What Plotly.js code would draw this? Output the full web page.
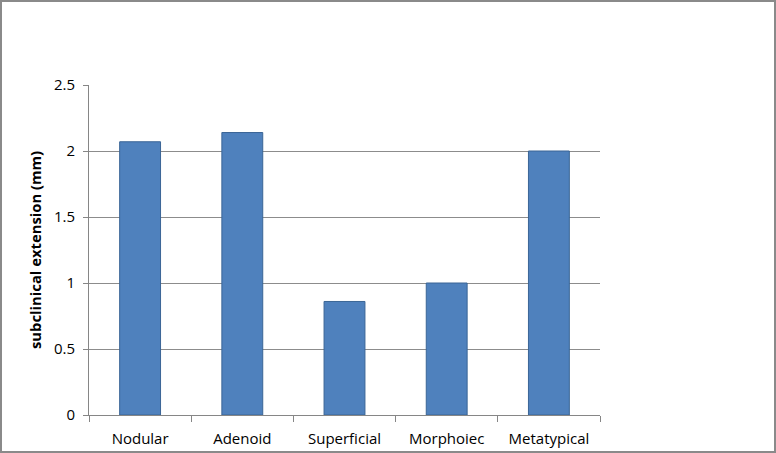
<!DOCTYPE html>
<html>
<head>
<meta charset="utf-8">
<script src="https://cdn.plot.ly/plotly-3.0.1.min.js"></script>
<style>
    body { margin: 0; background: #fff; }
    #wrap { position: relative; width: 776px; height: 453px; }
    #chart { width: 776px; height: 453px; }
    #frame { position: absolute; left: 0; top: 0; width: 776px; height: 453px; box-sizing: border-box;
             border: 2px solid #8a8a8a; pointer-events: none; }
</style>
</head>
<body>
<div id="wrap">
    <div id="chart"></div>
    <div id="frame"></div>
</div>
<script>
    var categories = ['Nodular', 'Adenoid', 'Superficial', 'Morphoiec', 'Metatypical'];
    var values = [2.07, 2.14, 0.86, 1.0, 2.0];
    var yTicks = [0, 0.5, 1, 1.5, 2, 2.5];
    var yTickText = ['0', '0.5', '1', '1.5', '2', '2.5'];
    var yTitle = 'subclinical extension (mm)';

    var trace = {
        x: categories,
        y: values,
        type: 'bar',
        marker: {
            color: '#4f81bd',
            line: { color: '#3a6596', width: 1 }
        },
        hoverinfo: 'x+y'
    };

    var layout = {
        width: 776,
        height: 453,
        margin: { t: 85, r: 176, b: 38, l: 89 },
        bargap: 0.6,
        showlegend: false,
        font: { family: 'Open Sans, Liberation Sans, sans-serif', color: '#000', size: 15 },
        xaxis: {
            showgrid: false,
            showline: true,
            linecolor: '#868686',
            ticks: 'outside',
            tickson: 'boundaries',
            ticklen: 6,
            tickcolor: '#868686',
            ticklabelstandoff: 10,
            tickfont: { size: 15 }
        },
        yaxis: {
            range: [0, 2.5],
            tickvals: yTicks,
            ticktext: yTickText,
            showgrid: true,
            gridcolor: '#8c8c8c',
            gridwidth: 1,
            zeroline: false,
            showline: true,
            linecolor: '#868686',
            ticks: 'outside',
            ticklen: 5,
            tickcolor: '#868686',
            ticklabelstandoff: 5,
            tickfont: { size: 15 }
        },
        // y title drawn as annotation so it sits where the reference has it
        annotations: [{
            text: '<b>' + yTitle + '</b>',
            xref: 'paper', yref: 'paper',
            x: 0, y: 0.5,
            xanchor: 'center', yanchor: 'middle',
            xshift: -54,
            textangle: -90,
            showarrow: false,
            font: { size: 14.8, color: '#000' }
        }],
        paper_bgcolor: '#fff',
        plot_bgcolor: '#fff'
    };

    Plotly.newPlot('chart', [trace], layout, { displayModeBar: false, staticPlot: true });
</script>
</body>
</html>
